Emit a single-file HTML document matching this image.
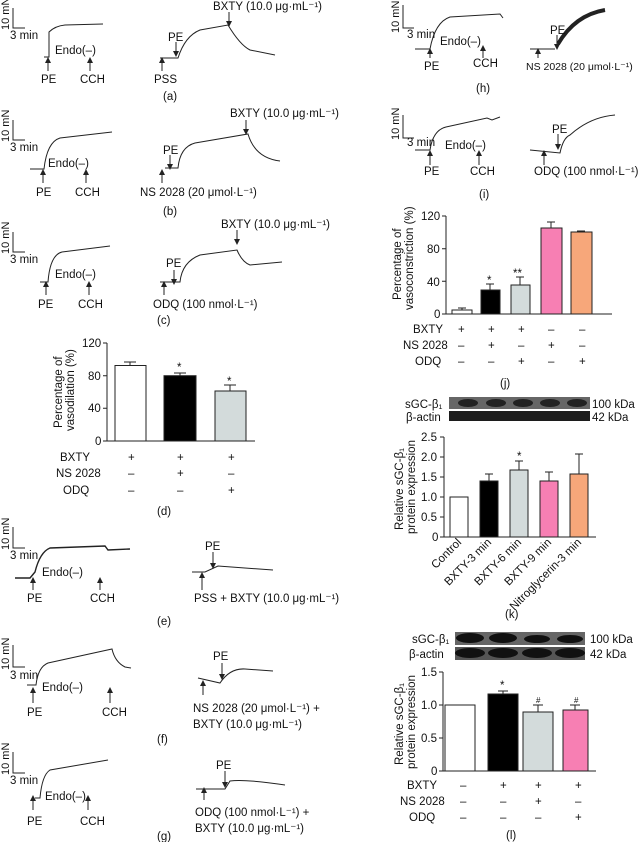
<!DOCTYPE html>
<html><head><meta charset="utf-8"><style>
body{margin:0;background:#fff}
svg{display:block}
text{font-family:"Liberation Sans",sans-serif;font-size:11.5px;fill:#111}
</style></head><body>
<svg width="640" height="842" viewBox="0 0 640 842" xmlns="http://www.w3.org/2000/svg">
<defs>
<marker id="ah" markerWidth="6" markerHeight="6" refX="3" refY="3" orient="auto" markerUnits="userSpaceOnUse"><path d="M0,0 L6,3 L0,6 Z" fill="#222"/></marker>
</defs>
<g fill="none" stroke="#222" stroke-width="1">
<path d="M13,8 V28 H25"/><path d="M13,120 V140 H25"/><path d="M13,232 V252 H25"/>
<path d="M13,527 V548 H25"/><path d="M13,645 V667 H25"/><path d="M13,752 V773 H25"/>
<path d="M403,5 V28 H414"/><path d="M403,115 V138 H414"/>
<path d="M44,57 H49 V32 Q55,26 65,25 L103,24"/>
<path d="M160,58 H178 Q185,36 200,30 L228,25 Q240,45 250,50 L275,55"/>
<path d="M30,169 H44 Q47,142 60,138 L112,132"/>
<path d="M165,168 H178 Q180,147 195,143 L248,134 Q255,158 280,161"/>
<path d="M40,282 H48 Q50,255 62,252 L110,246"/>
<path d="M160,282 H180 Q182,262 200,255 L237,250 Q242,262 250,265 L282,262"/>
<path d="M15,578 L30,578 L35,572 Q40,552 50,548 L105,546 L108,550 L130,549" stroke-width="1.4"/>
<path d="M192,572 L205,572 L218,566 L273,570"/>
<path d="M27,685 H36 Q38,667 48,663 L112,649 Q115,662 125,667 L131,668"/>
<path d="M198,678 L220,683 Q230,668 245,669 L273,671"/>
<path d="M35,798 H40 Q42,775 50,770 L108,760"/>
<path d="M196,789 H225 L230,781 Q245,779 285,785"/>
<path d="M415,49 H430 Q435,22 450,17 L500,14 L503,18"/>
<path d="M530,49 H555"/>
<path d="M558,44 Q575,15 605,10" stroke-width="4"/>
<path d="M415,150 H430 Q433,130 446,127 L487,118 L492,120 L500,117"/>
<path d="M530,150 L560,153 Q563,138 570,135 Q590,117 615,115"/>
</g>
<g stroke="#222" stroke-width="1" marker-end="url(#ah)">
<line x1="48" y1="71" x2="48" y2="60"/><line x1="90" y1="71" x2="90" y2="60"/>
<line x1="162" y1="71" x2="162" y2="60"/><line x1="176" y1="42" x2="176" y2="54"/><line x1="229" y1="12" x2="229" y2="24"/>
<line x1="43" y1="183" x2="43" y2="172"/><line x1="86" y1="183" x2="86" y2="172"/>
<line x1="162" y1="183" x2="162" y2="172"/><line x1="170" y1="155" x2="170" y2="167"/><line x1="246" y1="120" x2="246" y2="132"/>
<line x1="46" y1="295" x2="46" y2="284"/><line x1="89" y1="295" x2="89" y2="284"/>
<line x1="164" y1="295" x2="164" y2="284"/><line x1="174" y1="270" x2="174" y2="282"/><line x1="237" y1="230" x2="237" y2="242"/>
<line x1="33" y1="590" x2="33" y2="580"/><line x1="100" y1="590" x2="100" y2="580"/>
<line x1="202" y1="590" x2="202" y2="575"/><line x1="213" y1="552" x2="213" y2="566"/>
<line x1="33" y1="703" x2="33" y2="690"/><line x1="110" y1="703" x2="110" y2="690"/>
<line x1="203" y1="695" x2="203" y2="683"/><line x1="222" y1="663" x2="222" y2="677"/>
<line x1="33" y1="810" x2="33" y2="798"/><line x1="88" y1="810" x2="88" y2="798"/>
<line x1="204" y1="800" x2="204" y2="790"/><line x1="225" y1="771" x2="225" y2="785"/>
<line x1="430" y1="58" x2="430" y2="51"/><line x1="483" y1="58" x2="483" y2="48"/>
<line x1="538" y1="58" x2="538" y2="51"/><line x1="557" y1="35" x2="557" y2="47"/>
<line x1="430" y1="165" x2="430" y2="153"/><line x1="479" y1="165" x2="479" y2="153"/>
<line x1="544" y1="165" x2="544" y2="153"/><line x1="558" y1="134" x2="558" y2="147"/>
</g>
<g style="font-size:11px">
<text transform="translate(9,30) rotate(-90)" style="font-size:11px">10 mN</text><text x="10" y="39">3 min</text>
<text transform="translate(9,142) rotate(-90)" style="font-size:11px">10 mN</text><text x="10" y="151">3 min</text>
<text transform="translate(9,254) rotate(-90)" style="font-size:11px">10 mN</text><text x="10" y="263">3 min</text>
<text transform="translate(9,550) rotate(-90)" style="font-size:11px">10 mN</text><text x="10" y="559">3 min</text>
<text transform="translate(9,670) rotate(-90)" style="font-size:11px">10 mN</text><text x="10" y="679">3 min</text>
<text transform="translate(9,775) rotate(-90)" style="font-size:11px">10 mN</text><text x="10" y="784">3 min</text>
<text transform="translate(399,33) rotate(-90)" style="font-size:11px">10 mN</text><text x="407" y="38">3 min</text>
<text transform="translate(399,140) rotate(-90)" style="font-size:11px">10 mN</text><text x="407" y="146">3 min</text>
</g>
<text x="55" y="54">Endo(–)</text><text x="41" y="83">PE</text><text x="80" y="83">CCH</text>
<text x="154" y="83">PSS</text><text x="168" y="41">PE</text><text x="213" y="10">BXTY (10.0 μg·mL⁻¹)</text>
<text x="163" y="100">(a)</text>
<text x="48" y="167">Endo(–)</text><text x="36" y="196">PE</text><text x="75" y="196">CCH</text>
<text x="163" y="154">PE</text><text x="140" y="196">NS 2028 (20 μmol·L⁻¹)</text><text x="230" y="117">BXTY (10.0 μg·mL⁻¹)</text>
<text x="163" y="215">(b)</text>
<text x="55" y="278">Endo(–)</text><text x="38" y="308">PE</text><text x="78" y="308">CCH</text>
<text x="166" y="267">PE</text><text x="153" y="308">ODQ (100 nmol·L⁻¹)</text><text x="221" y="228">BXTY (10.0 μg·mL⁻¹)</text>
<text x="157" y="324">(c)</text>
<g stroke="#222" stroke-width="1">
<path d="M107,343 V441 H255" fill="none"/>
<path d="M103,343H107M103,375.7H107M103,408.3H107M103,441H107"/>
<rect x="115" y="365.5" width="31" height="75.5" fill="#fff"/>
<rect x="164" y="375.7" width="32" height="65.3" fill="#000"/>
<rect x="215" y="391" width="31" height="50" fill="#d3dbdb"/>
<path d="M130,365.5V362M124,362H136M180,375.7V373M174,373H186M230,391V385M224,385H236" fill="none"/>
</g>
<g style="font-size:11px"><text x="82" y="347">120</text><text x="88" y="380">80</text><text x="88" y="412">40</text><text x="95" y="445">0</text></g>
<text transform="translate(62,428) rotate(-90)">Percentage of</text>
<text transform="translate(74,431) rotate(-90)">vasodilation (%)</text>
<text x="177" y="371">*</text><text x="227" y="385">*</text>
<text x="60" y="461">BXTY</text><text x="56" y="477">NS 2028</text><text x="63" y="494">ODQ</text>
<text x="128" y="461">+</text><text x="177" y="461">+</text><text x="228" y="461">+</text>
<text x="128" y="477">–</text><text x="177" y="477">+</text><text x="228" y="477">–</text>
<text x="128" y="494">–</text><text x="177" y="494">–</text><text x="228" y="494">+</text>
<text x="157" y="515">(d)</text>
<text x="42" y="576">Endo(–)</text><text x="27" y="602">PE</text><text x="90" y="602">CCH</text>
<text x="205" y="550">PE</text><text x="194" y="602">PSS + BXTY (10.0 μg·mL⁻¹)</text><text x="157" y="625">(e)</text>
<text x="42" y="691">Endo(–)</text><text x="27" y="716">PE</text><text x="102" y="716">CCH</text>
<text x="213" y="660">PE</text><text x="193" y="712">NS 2028 (20 μmol·L⁻¹) +</text><text x="193" y="728">BXTY (10.0 μg·mL⁻¹)</text>
<text x="157" y="743">(f)</text>
<text x="45" y="800">Endo(–)</text><text x="27" y="825">PE</text><text x="80" y="825">CCH</text>
<text x="216" y="769">PE</text><text x="195" y="816">ODQ (100 nmol·L⁻¹) +</text><text x="195" y="832">BXTY (10.0 μg·mL⁻¹)</text>
<text x="157" y="840">(g)</text>
<text x="440" y="45">Endo(–)</text><text x="424" y="70">PE</text><text x="473" y="67">CCH</text>
<text x="550" y="34">PE</text><text x="526" y="70" style="font-size:10.5px">NS 2028 (20 μmol·L⁻¹)</text><text x="476" y="92">(h)</text>
<text x="445" y="149">Endo(–)</text><text x="424" y="175">PE</text><text x="470" y="175">CCH</text>
<text x="552" y="133">PE</text><text x="534" y="175">ODQ (100 nmol·L⁻¹)</text><text x="479" y="198">(i)</text>
<g stroke="#222" stroke-width="1">
<path d="M446,216 V314 H612" fill="none"/>
<path d="M442,216H446M442,248.7H446M442,281.3H446M442,314H446"/>
<rect x="452" y="310" width="20" height="4" fill="#fff"/>
<rect x="481" y="290" width="19" height="24" fill="#000"/>
<rect x="511" y="285" width="19" height="29" fill="#d3dbdb"/>
<rect x="541" y="228" width="21" height="86" fill="#f77fb3"/>
<rect x="571" y="232" width="21" height="82" fill="#f7a77a"/>
<path d="M462,310V308M458,308H466M490,290V284M486,284H494M520,285V277M516,277H524M551,228V222M547,222H555M581,232V231M577,231H585" fill="none"/>
</g>
<g style="font-size:11px"><text x="421" y="220">120</text><text x="427" y="253">80</text><text x="427" y="286">40</text><text x="434" y="318">0</text></g>
<text transform="translate(401,300) rotate(-90)">Percentage of</text>
<text transform="translate(413,310) rotate(-90)">vasoconstriction (%)</text>
<text x="487" y="284">*</text><text x="513" y="277">**</text>
<text x="413" y="333">BXTY</text><text x="403" y="349">NS 2028</text><text x="415" y="365">ODQ</text>
<text x="458" y="333">+</text><text x="488" y="333">+</text><text x="518" y="333">+</text><text x="548" y="333">–</text><text x="579" y="333">–</text>
<text x="458" y="349">–</text><text x="488" y="349">+</text><text x="518" y="349">–</text><text x="548" y="349">+</text><text x="579" y="349">–</text>
<text x="458" y="365">–</text><text x="488" y="365">–</text><text x="518" y="365">+</text><text x="548" y="365">–</text><text x="579" y="365">+</text>
<text x="500" y="387">(j)</text>
<rect x="449" y="397" width="141" height="12" fill="#666"/>
<rect x="449" y="411" width="141" height="10" fill="#1c1c1c"/>
<g fill="#222"><ellipse cx="468" cy="403" rx="10" ry="4"/><ellipse cx="496" cy="403" rx="10" ry="4"/><ellipse cx="523" cy="403" rx="10" ry="4"/><ellipse cx="550" cy="403" rx="10" ry="4"/><ellipse cx="577" cy="403" rx="10" ry="4"/></g>
<text x="405" y="408">sGC-β₁</text><text x="406" y="421">β-actin</text>
<text x="592" y="408">100 kDa</text><text x="592" y="421">42 kDa</text>
<g stroke="#222" stroke-width="1">
<path d="M444,437 V537 H596" fill="none"/>
<path d="M440,437H444M440,457H444M440,477H444M440,497H444M440,517H444M440,537H444"/>
<rect x="450" y="497" width="18" height="40" fill="#fff"/>
<rect x="480" y="481" width="18" height="56" fill="#000"/>
<rect x="510" y="470" width="18" height="67" fill="#d3dbdb"/>
<rect x="540" y="481" width="18" height="56" fill="#f77fb3"/>
<rect x="570" y="474" width="18" height="63" fill="#f7a77a"/>
<path d="M489,481V474M485,474H493M519,470V461M515,461H523M549,481V472M545,472H553M579,474V454M575,454H583" fill="none"/>
</g>
<g style="font-size:11px"><text x="421" y="441">2.5</text><text x="421" y="461">2.0</text><text x="421" y="481">1.5</text><text x="421" y="501">1.0</text><text x="421" y="521">0.5</text><text x="432" y="541">0</text></g>
<text transform="translate(403,530) rotate(-90)">Relative sGC-β₁</text>
<text transform="translate(415,534) rotate(-90)">protein expression</text>
<text x="517" y="460">*</text>
<g style="font-size:10.5px">
<text transform="translate(462,543) rotate(-45)" text-anchor="end">Control</text>
<text transform="translate(492,543) rotate(-45)" text-anchor="end">BXTY-3 min</text>
<text transform="translate(522,543) rotate(-45)" text-anchor="end">BXTY-6 min</text>
<text transform="translate(552,543) rotate(-45)" text-anchor="end">BXTY-9 min</text>
<text transform="translate(582,543) rotate(-45)" text-anchor="end">Nitroglycerin-3 min</text>
</g>
<text x="505" y="618">(k)</text>
<rect x="455" y="632" width="130" height="13" fill="#666"/>
<rect x="455" y="647" width="130" height="13" fill="#555"/>
<g fill="#111"><ellipse cx="470" cy="638" rx="14" ry="5"/><ellipse cx="503" cy="638" rx="14" ry="5"/><ellipse cx="537" cy="639" rx="13" ry="4"/><ellipse cx="570" cy="639" rx="13" ry="4"/>
<ellipse cx="470" cy="653" rx="15" ry="5"/><ellipse cx="503" cy="653" rx="15" ry="5"/><ellipse cx="537" cy="653" rx="15" ry="5"/><ellipse cx="570" cy="653" rx="15" ry="5"/></g>
<text x="412" y="643">sGC-β₁</text><text x="409" y="658">β-actin</text>
<text x="590" y="643">100 kDa</text><text x="590" y="658">42 kDa</text>
<g stroke="#222" stroke-width="1">
<path d="M443,672 V771 H596" fill="none"/>
<path d="M439,672H443M439,705H443M439,738H443M439,771H443"/>
<rect x="445" y="705" width="30" height="66" fill="#fff"/>
<rect x="488" y="694" width="30" height="77" fill="#000"/>
<rect x="523" y="712" width="30" height="59" fill="#d3dbdb"/>
<rect x="563" y="710" width="25" height="61" fill="#f77fb3"/>
<path d="M503,694V691M498,691H508M538,712V705M533,705H543M575,710V705M570,705H580" fill="none"/>
</g>
<g style="font-size:11px"><text x="421" y="676">1.5</text><text x="421" y="709">1.0</text><text x="421" y="742">0.5</text><text x="431" y="775">0</text></g>
<text transform="translate(403,765) rotate(-90)">Relative sGC-β₁</text>
<text transform="translate(415,769) rotate(-90)">protein expression</text>
<text x="500" y="689">*</text><text x="536" y="703" style="font-size:8px">#</text><text x="574" y="703" style="font-size:8px">#</text>
<text x="407" y="789">BXTY</text><text x="400" y="805">NS 2028</text><text x="409" y="821">ODQ</text>
<text x="460" y="789">–</text><text x="500" y="789">+</text><text x="535" y="789">+</text><text x="575" y="789">+</text>
<text x="460" y="805">–</text><text x="500" y="805">–</text><text x="535" y="805">+</text><text x="575" y="805">–</text>
<text x="460" y="821">–</text><text x="500" y="821">–</text><text x="535" y="821">–</text><text x="575" y="821">+</text>
<text x="506" y="839">(l)</text>
</svg>
</body></html>
